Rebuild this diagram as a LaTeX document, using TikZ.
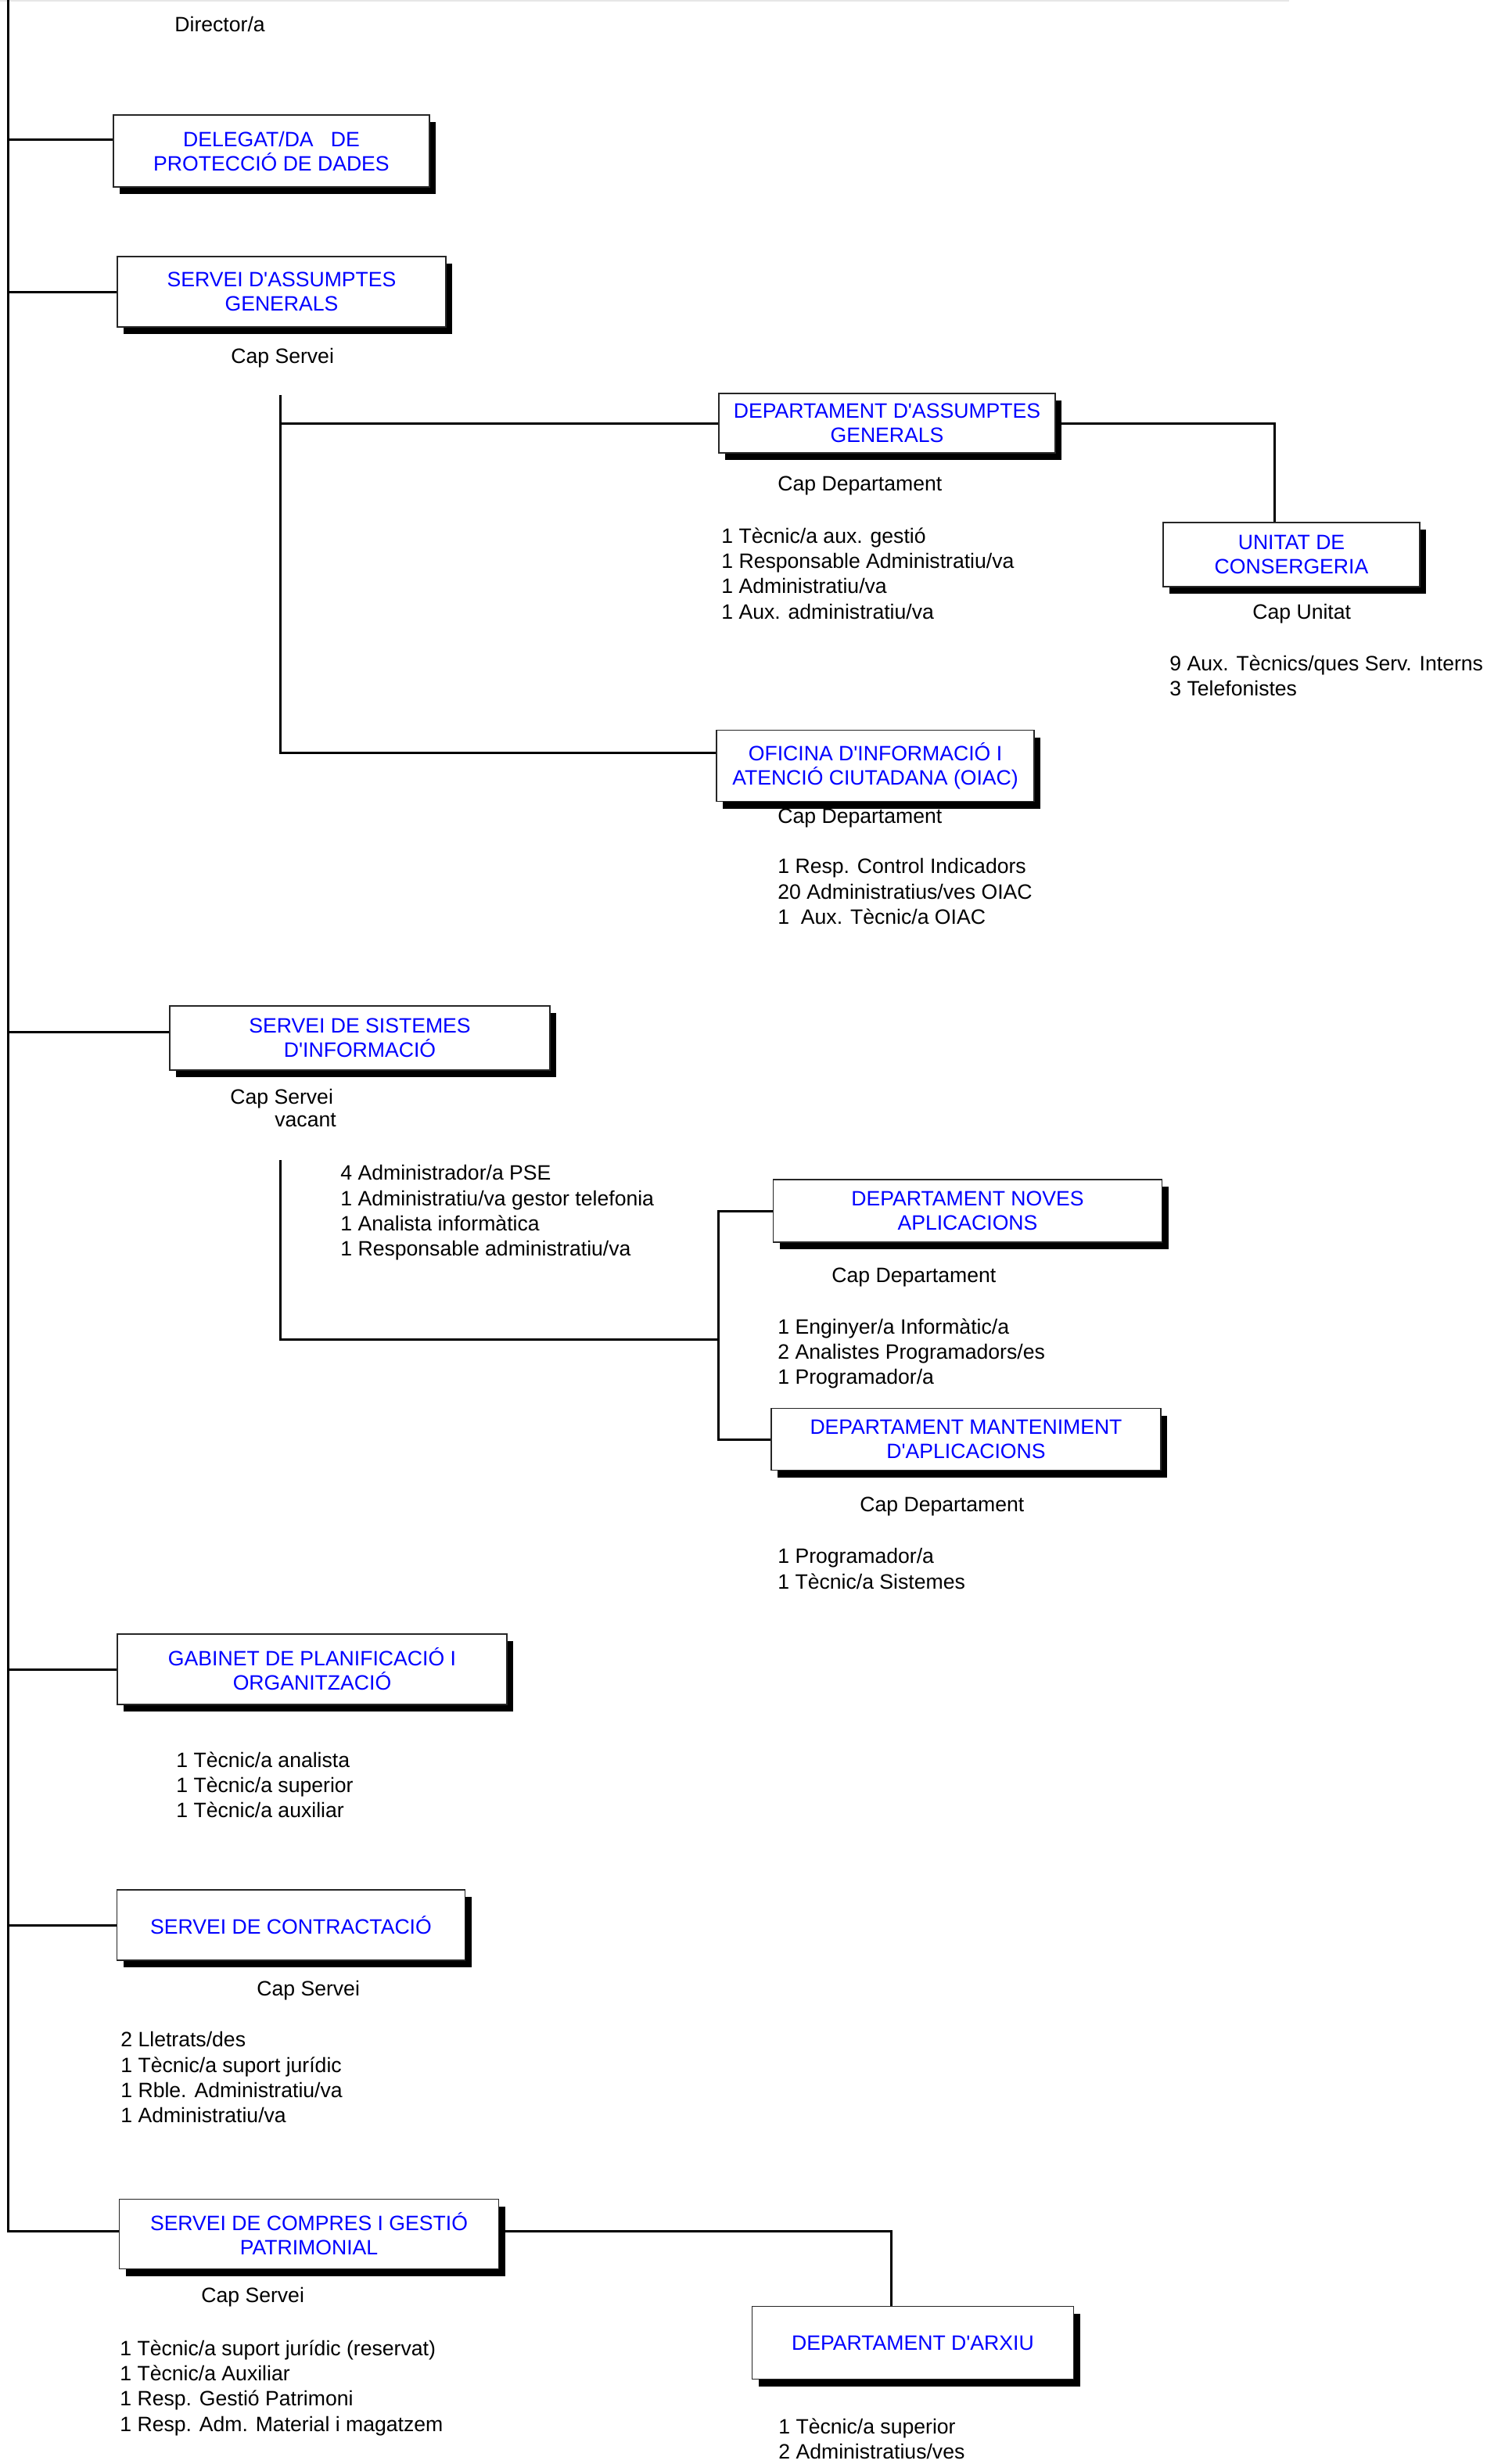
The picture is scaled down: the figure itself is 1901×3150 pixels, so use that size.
\documentclass[tikz,border=0pt]{standalone}
\usepackage{fontspec}
\setmainfont{Liberation Sans}
\usepackage{tikz}
\usetikzlibrary{shadows,calc}
\definecolor{unitblue}{HTML}{0000FF}
\definecolor{rulegray}{HTML}{E6E6E6}
\newcommand{\apo}{\textquotesingle}
\newcommand{\orgfont}{\fontsize{13.3}{15.5}\selectfont}
\newcommand{\stafffont}{\fontsize{13.3}{16.2}\selectfont}
\tikzset{
  orgbox/.style={rectangle, draw=black!85, fill=white, line width=0.7pt, align=center,
                 text=unitblue, font=\orgfont, inner sep=2pt,
                 drop shadow={shadow xshift=4pt, shadow yshift=-4.5pt, fill=black, opacity=1}},
  staff/.style={anchor=north west, align=left, inner sep=0pt, font=\stafffont},
  link/.style={draw=black, line width=1.5pt}
}

\begin{document}
\begin{tikzpicture}[x=0.5pt,y=-0.5pt]
  \useasboundingbox[fill=white] (0,0) rectangle (1901,3150);
  \draw[rulegray, line width=1pt] (0,1) -- (1648,1);
  \coordinate (spine) at (10,0);
  \node[staff] (dir) at (223,21) {Director/a};

  % units under the director
  \node[orgbox, minimum width=202pt, minimum height=46pt] (dpd) at (347,193) {DELEGAT/DA\ \ \ DE\\PROTECCIÓ DE DADES};
  \node[orgbox, minimum width=210pt, minimum height=45pt] (sag) at (360,373) {SERVEI D\apo ASSUMPTES\\GENERALS};
  \node[staff] (sagcap) at (295,445) {Cap Servei};
  \coordinate (sagfork) at (358,505);
  \node[orgbox, minimum width=215pt, minimum height=38pt] (dag) at (1134,541) {DEPARTAMENT D\apo ASSUMPTES\\GENERALS};
  \node[staff] (dagcap) at (994,609) {Cap Departament};
  \node[staff] (dagstaff) at (922,674) {1 Tècnic/a aux. gestió\\1 Responsable Administratiu/va\\1 Administratiu/va\\1 Aux. administratiu/va};
  \node[orgbox, minimum width=164pt, minimum height=41pt] (uni) at (1651,709) {UNITAT DE\\CONSERGERIA};
  \node[staff] (unicap) at (1601,772) {Cap Unitat};
  \node[staff] (unistaff) at (1495,837) {9 Aux. Tècnics/ques Serv. Interns\\3 Telefonistes};
  \node[orgbox, minimum width=203pt, minimum height=45.5pt] (oiac) at (1119,979) {OFICINA D\apo INFORMACIÓ I\\ATENCIÓ CIUTADANA (OIAC)};
  \node[staff] (oiaccap) at (994,1034) {Cap Departament};
  \node[staff] (oiacstaff) at (994,1097) {1 Resp. Control Indicadors\\20 Administratius/ves OIAC\\1\ \ Aux. Tècnic/a OIAC};

  % sistemes d'informacio
  \node[orgbox, minimum width=243pt, minimum height=41pt] (ssi) at (460,1327) {SERVEI DE SISTEMES\\D\apo INFORMACIÓ};
  \node[staff] (ssicap) at (294,1392) {Cap Servei};
  \node[staff] (ssivac) at (351,1423) {vacant};
  \node[staff] (ssistaff) at (435,1489) {4 Administrador/a PSE\\1 Administratiu/va gestor telefonia\\1 Analista informàtica\\1 Responsable administratiu/va};
  \coordinate (ssifork) at (358,1483);
  \coordinate (ssijoin) at (918,1712);
  \node[orgbox, minimum width=248.5pt, minimum height=40pt] (dna) at (1237,1548) {DEPARTAMENT NOVES\\APLICACIONS};
  \node[staff] (dnacap) at (1063,1621) {Cap Departament};
  \node[staff] (dnastaff) at (994,1685) {1 Enginyer/a Informàtic/a\\2 Analistes Programadors/es\\1 Programador/a};
  \node[orgbox, minimum width=249pt, minimum height=39.5pt] (dma) at (1235,1840) {DEPARTAMENT MANTENIMENT\\D\apo APLICACIONS};
  \node[staff] (dmacap) at (1099,1913) {Cap Departament};
  \node[staff] (dmastaff) at (994,1979) {1 Programador/a\\1 Tècnic/a Sistemes};

  % gabinet, contractacio, compres
  \node[orgbox, minimum width=249pt, minimum height=45pt] (gpo) at (399,2134) {GABINET DE PLANIFICACIÓ I\\ORGANITZACIÓ};
  \node[staff] (gpostaff) at (225,2239) {1 Tècnic/a analista\\1 Tècnic/a superior\\1 Tècnic/a auxiliar};
  \node[orgbox, minimum width=222.5pt, minimum height=45pt] (sco) at (372,2461) {SERVEI DE CONTRACTACIÓ};
  \node[staff] (scocap) at (328,2532) {Cap Servei};
  \node[staff] (scostaff) at (154,2597) {2 Lletrats/des\\1 Tècnic/a suport jurídic\\1 Rble. Administratiu/va\\1 Administratiu/va};
  \node[orgbox, minimum width=242.5pt, minimum height=44.5pt] (scg) at (395,2856) {SERVEI DE COMPRES I GESTIÓ\\PATRIMONIAL};
  \node[staff] (scgcap) at (257,2924) {Cap Servei};
  \node[staff] (scgstaff) at (153,2991) {1 Tècnic/a suport jurídic (reservat)\\1 Tècnic/a Auxiliar\\1 Resp. Gestió Patrimoni\\1 Resp. Adm. Material i magatzem};
  \node[orgbox, minimum width=205.5pt, minimum height=46.5pt] (arx) at (1167,2995) {DEPARTAMENT D\apo ARXIU};
  \node[staff] (arxstaff) at (995,3091) {1 Tècnic/a superior\\2 Administratius/ves};

  % lines
  \draw[link] (spine) |- ([yshift=2pt]scg.west);
  \draw[link] ([yshift=7.5pt]dpd.west) -| (spine);
  \draw[link] (sag.west) -| (spine);
  \draw[link] ([yshift=4pt]ssi.west) -| (spine);
  \draw[link] (gpo.west) -| (spine);
  \draw[link] (sco.west) -| (spine);
  \draw[link] (sagfork) |- ([yshift=8.5pt]oiac.west);
  \draw[link] (dag.west) -| (sagfork);
  \draw[link] (dag.east) -| ([xshift=-11pt]uni.north);
  \draw[link] (ssifork) |- (ssijoin);
  \draw[link] (dna.west) -| (ssijoin) |- (dma.west);
  \draw[link] ([yshift=2pt]scg.east) -| ([xshift=-14pt]arx.north);
\end{tikzpicture}
\end{document}
